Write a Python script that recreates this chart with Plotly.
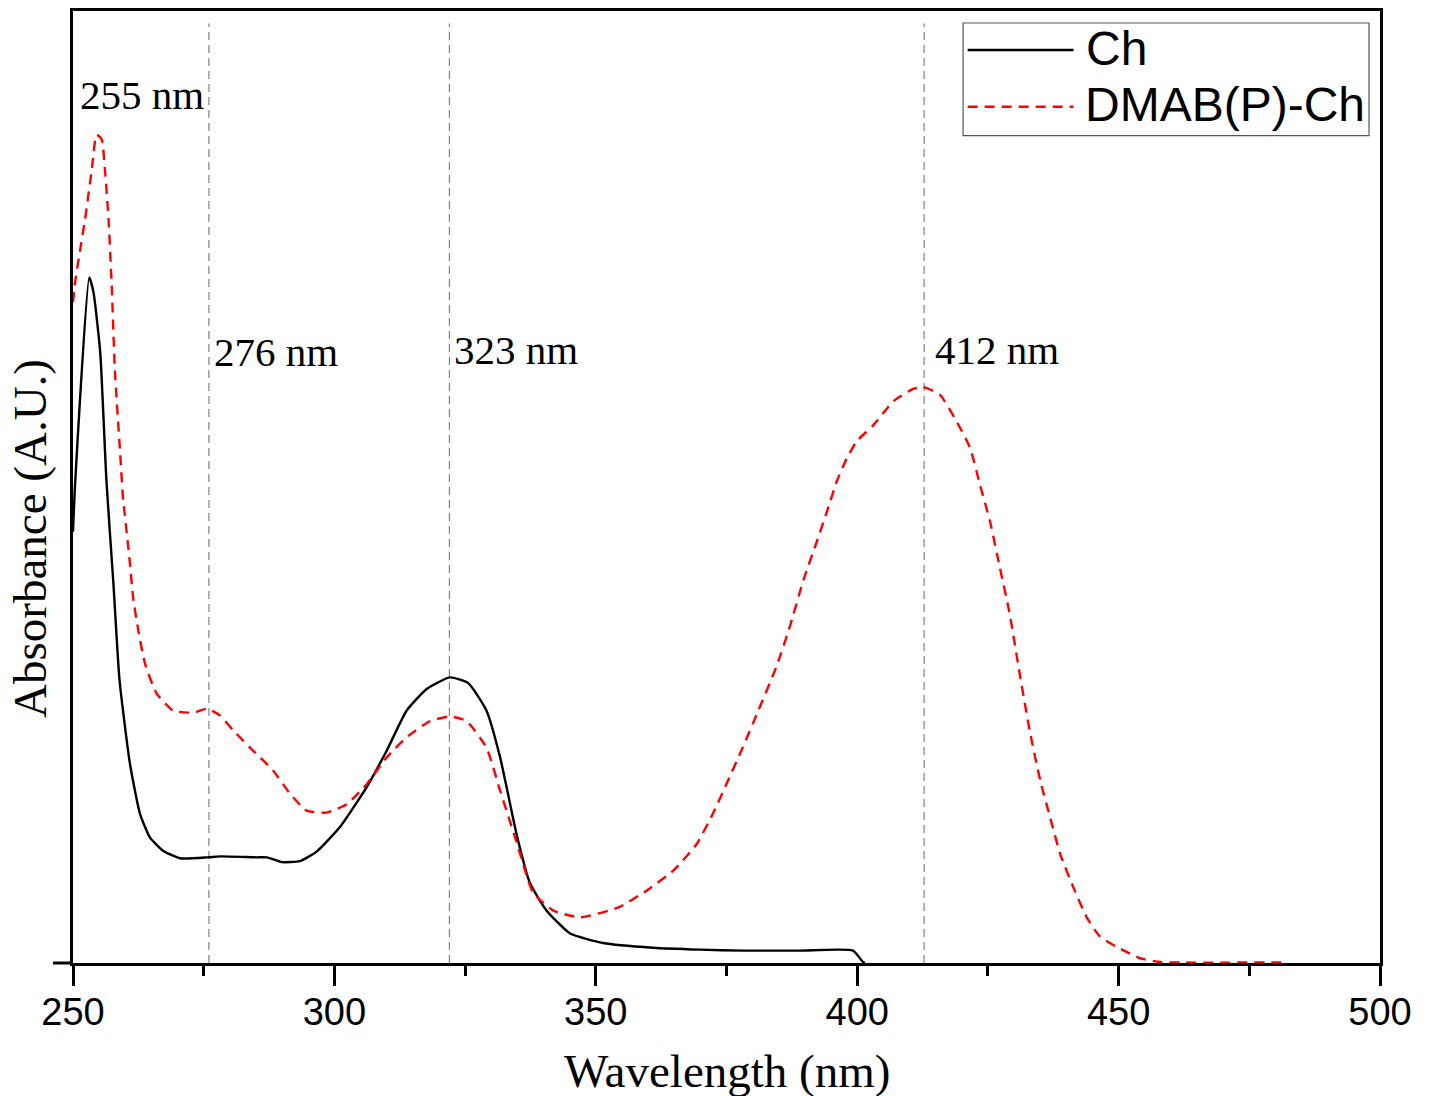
import plotly.graph_objects as go

# ---- data ----
ch_wl = [250.0, 250.4, 253.1, 253.9, 255.2, 256.4, 257.7, 258.9, 260.9, 262.8, 264.7, 267.2,
         270.5, 275.8, 278.1, 285.1, 287.1, 289.9, 293.4, 296.6, 301.1, 306.2, 310.0, 313.8,
         317.7, 322.1, 325.6, 329.1, 331.7, 334.9, 337.4, 340.6, 345.1, 351.4, 360.9, 369.9,
         378.2, 389.0, 399.2, 401.1, 401.5]
ch_abs = [0.453, 0.503, 0.720, 0.705, 0.642, 0.506, 0.401, 0.297, 0.209, 0.157, 0.132, 0.118,
          0.110, 0.111, 0.112, 0.111, 0.111, 0.106, 0.107, 0.117, 0.143, 0.185, 0.223, 0.265,
          0.288, 0.300, 0.294, 0.265, 0.216, 0.134, 0.084, 0.055, 0.031, 0.021, 0.016, 0.014,
          0.013, 0.013, 0.013, 0.001, 0.0]

dm_wl = [250.0, 250.4, 251.3, 252.3, 253.6, 254.5, 255.5, 256.1, 256.8, 257.4, 258.0, 259.0,
         259.6, 259.9, 260.9, 261.5, 262.5, 263.8, 266.0, 269.2, 273.0, 275.6, 278.1, 280.7,
         283.9, 288.3, 291.5, 294.7, 298.5, 302.4, 306.2, 310.0, 313.8, 318.3, 322.1, 325.3,
         329.1, 331.7, 334.9, 338.0, 341.9, 347.0, 354.6, 359.7, 364.8, 369.3, 372.5, 375.0,
         378.0, 381.0, 384.6, 387.2, 389.7, 392.3, 394.2, 396.1, 398.0, 399.9,
         403.1, 406.9, 410.7, 412.6, 415.8, 419.0, 421.6, 423.5, 425.4, 427.3, 429.2, 431.1,
         433.1, 435.0, 436.9, 438.8, 441.3, 443.9, 446.4, 449.6, 454.1, 457.9, 461.7, 482.2]
dm_abs = [0.694, 0.715, 0.747, 0.781, 0.834, 0.870, 0.865, 0.834, 0.781, 0.712, 0.624, 0.537,
          0.485, 0.471, 0.419, 0.384, 0.349, 0.314, 0.283, 0.265, 0.263, 0.267, 0.260, 0.244,
          0.226, 0.202, 0.178, 0.160, 0.158, 0.167, 0.188, 0.216, 0.237, 0.254, 0.259, 0.254,
          0.226, 0.181, 0.126, 0.074, 0.055, 0.048, 0.059, 0.076, 0.097, 0.125, 0.158, 0.188,
          0.225, 0.264, 0.312, 0.355, 0.402, 0.443, 0.474, 0.506, 0.530, 0.548,
          0.565, 0.590, 0.603, 0.605, 0.597, 0.569, 0.541, 0.502, 0.464, 0.415, 0.366, 0.303,
          0.241, 0.192, 0.153, 0.115, 0.080, 0.048, 0.028, 0.017, 0.005, 0.001, 0.0005, 0.0005]

peak_lines = [276.0, 322.0, 412.8]
peak_labels = ["255 nm", "276 nm", "323 nm", "412 nm"]
label_x = [251.0, 276.6, 322.5, 414.5]
label_y = [0.912, 0.642, 0.644, 0.644]

series_names = ["Ch", "DMAB(P)-Ch"]
x_ticks = [250, 300, 350, 400, 450, 500]

BLACK_W = 2.4
RED_DASH = "10px,7px"

fig = go.Figure()
fig.add_trace(go.Scatter(x=ch_wl, y=ch_abs, mode="lines", name=series_names[0],
                         line=dict(color="black", width=BLACK_W, shape="spline", smoothing=0.5),
                         showlegend=False))
fig.add_trace(go.Scatter(x=dm_wl, y=dm_abs, mode="lines", name=series_names[1],
                         line=dict(color="#ff0000", width=BLACK_W, dash=RED_DASH,
                                   shape="spline", smoothing=0.5),
                         showlegend=False))

shapes = []
for xv in peak_lines:
    shapes.append(dict(type="line", xref="x", yref="y", x0=xv, x1=xv, y0=0, y1=0.987,
                       line=dict(color="#808080", width=1.2, dash="8px,5px"), layer="below"))
# bottom axis extends left of the y axis
shapes.append(dict(type="line", xref="paper", yref="paper", x0=-0.0153, x1=0, y0=0, y1=0,
                   line=dict(color="black", width=3)))
# legend box
shapes.append(dict(type="rect", xref="paper", yref="paper", x0=0.681, x1=0.9916, y0=0.869, y1=0.9874,
                   line=dict(color="#555555", width=1.2), fillcolor="white", layer="above"))
shapes.append(dict(type="line", xref="paper", yref="paper", x0=0.6845, x1=0.7655, y0=0.959, y1=0.959,
                   line=dict(color="black", width=BLACK_W), layer="above"))
shapes.append(dict(type="line", xref="paper", yref="paper", x0=0.6845, x1=0.7655, y0=0.8995, y1=0.8995,
                   line=dict(color="#ff0000", width=BLACK_W, dash=RED_DASH), layer="above"))

annotations = []
for t, xv, yv in zip(peak_labels, label_x, label_y):
    annotations.append(dict(text=t, x=xv, y=yv, xref="x", yref="y", xanchor="left", yanchor="middle",
                            showarrow=False, font=dict(family="Liberation Serif", size=41, color="black")))
annotations.append(dict(text=series_names[0], x=0.7735, y=0.961, xref="paper", yref="paper",
                        xanchor="left", yanchor="middle", showarrow=False,
                        font=dict(family="Liberation Sans", size=48, color="black")))
annotations.append(dict(text=series_names[1], x=0.7725, y=0.9015, xref="paper", yref="paper",
                        xanchor="left", yanchor="middle", showarrow=False,
                        font=dict(family="Liberation Sans", size=48, color="black")))
annotations.append(dict(text="Wavelength (nm)", x=0.5, y=-0.113, xref="paper", yref="paper",
                        xanchor="center", yanchor="middle", showarrow=False,
                        font=dict(family="Liberation Serif", size=47, color="black")))
annotations.append(dict(text="Absorbance (A.U.)", x=-0.0325, y=0.446, xref="paper", yref="paper",
                        xanchor="center", yanchor="middle", showarrow=False, textangle=-90,
                        font=dict(family="Liberation Serif", size=47, color="black")))

fig.update_layout(
    width=1432, height=1096,
    margin=dict(l=73, r=52, t=8, b=133),
    paper_bgcolor="white", plot_bgcolor="white",
    showlegend=False,
    shapes=shapes, annotations=annotations,
    xaxis=dict(range=[250, 500], tickvals=x_ticks, ticktext=[str(v) for v in x_ticks],
               ticks="outside", ticklen=20, tickwidth=3, tickcolor="black",
               ticklabelstandoff=-7,
               showline=True, linewidth=3, linecolor="black", mirror=True,
               showgrid=False, zeroline=False, layer="below traces",
               tickfont=dict(family="Liberation Sans", size=38, color="black"),
               minor=dict(tickvals=[275, 325, 375, 425, 475], ticks="outside", ticklen=10,
                          tickwidth=3, tickcolor="black", showgrid=False)),
    yaxis=dict(range=[0, 1], showticklabels=False, ticks="",
               showline=True, linewidth=3, linecolor="black", mirror=True,
               showgrid=False, zeroline=False, layer="below traces"),
)

fig.write_html("out.html", config={"displayModeBar": False},
               post_script="document.body.style.margin='0';document.body.style.padding='0';")
